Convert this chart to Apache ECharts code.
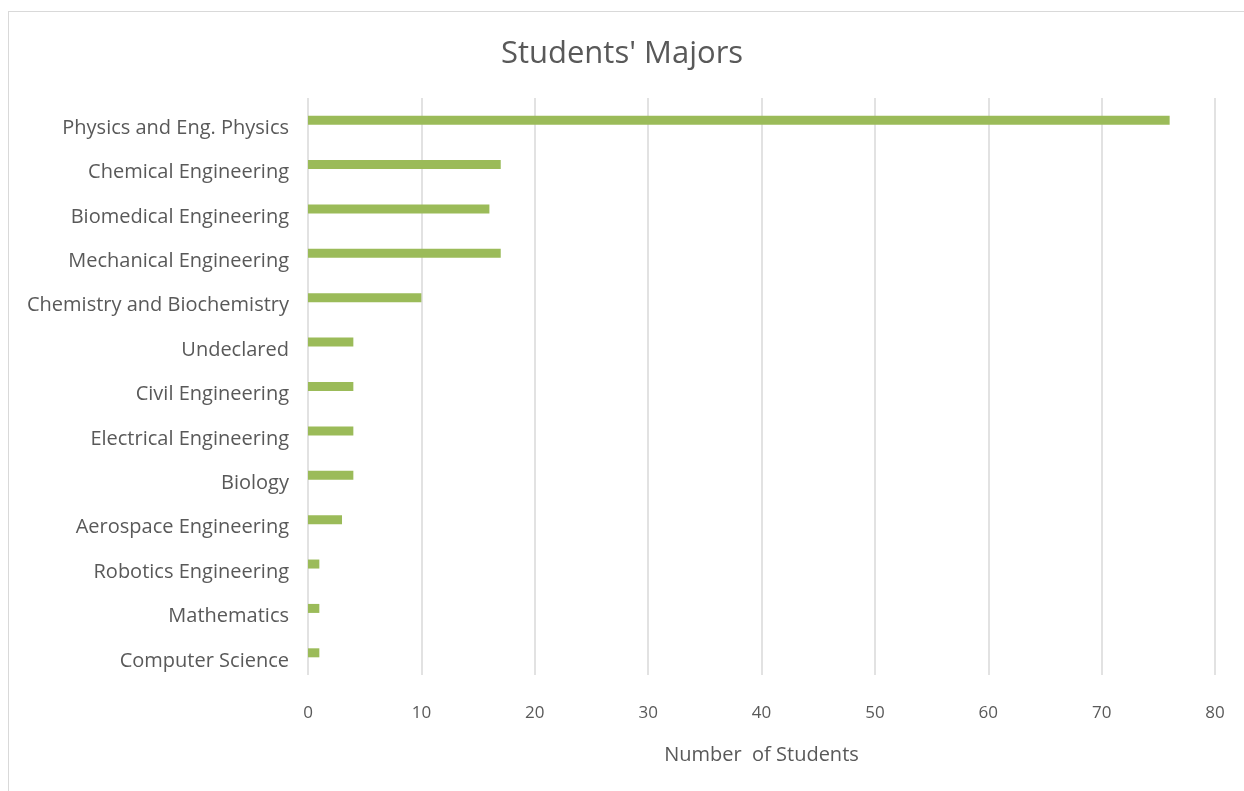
<!DOCTYPE html>
<html>
<head>
<meta charset="utf-8">
<script src="https://cdn.jsdelivr.net/npm/echarts@6/dist/echarts.min.js"></script>
<style>
html,body{margin:0;padding:0;background:#fff;}
#frame{position:absolute;left:8px;top:11px;width:1236px;height:780px;border-left:1px solid #d9d9d9;border-top:1px solid #d9d9d9;box-sizing:border-box;}
#chart{position:absolute;left:0;top:0;width:1244px;height:791px;}
</style>
</head>
<body>
<div id="frame"></div>
<div id="chart"></div>
<script>
var categories = [
  "Physics and Eng. Physics",
  "Chemical Engineering",
  "Biomedical Engineering",
  "Mechanical Engineering",
  "Chemistry and Biochemistry",
  "Undeclared",
  "Civil Engineering",
  "Electrical Engineering",
  "Biology",
  "Aerospace Engineering",
  "Robotics Engineering",
  "Mathematics",
  "Computer Science"
];
var studentCounts = [76, 17, 16, 17, 10, 4, 4, 4, 4, 3, 1, 1, 1];
var xTicks = [0, 10, 20, 30, 40, 50, 60, 70, 80];

var chart = echarts.init(document.getElementById('chart'), null, {renderer: 'canvas'});
chart.setOption({
  animation: false,
  backgroundColor: 'transparent',
  title: {
    text: "Students' Majors",
    left: 'center',
    top: 34,
    textStyle: {fontFamily: 'Open Sans', fontWeight: 'normal', fontSize: 31, color: '#595959'}
  },
  grid: {left: 308, right: 29, top: 98, bottom: 116, containLabel: false},
  xAxis: {
    type: 'value',
    min: xTicks[0],
    max: xTicks[xTicks.length - 1],
    interval: 10,
    name: 'Number  of Students',
    nameLocation: 'middle',
    nameGap: 70,
    nameTextStyle: {fontFamily: 'Open Sans', fontSize: 20, color: '#595959'},
    axisLine: {show: false},
    axisTick: {show: false},
    axisLabel: {fontFamily: 'Open Sans', fontSize: 17, color: '#595959', margin: 30},
    splitLine: {show: true, lineStyle: {color: '#d9d9d9', width: 1.5}}
  },
  yAxis: {
    type: 'category',
    data: categories,
    inverse: true,
    axisLine: {show: false},
    axisTick: {show: false},
    axisLabel: {fontFamily: 'Open Sans', fontSize: 20, color: '#595959', margin: 19, verticalAlign: 'top', lineHeight: 16}
  },
  series: [{
    type: 'bar',
    data: studentCounts,
    barWidth: 9,
    itemStyle: {color: '#9bbb59'}
  }]
});
</script>
</body>
</html>
